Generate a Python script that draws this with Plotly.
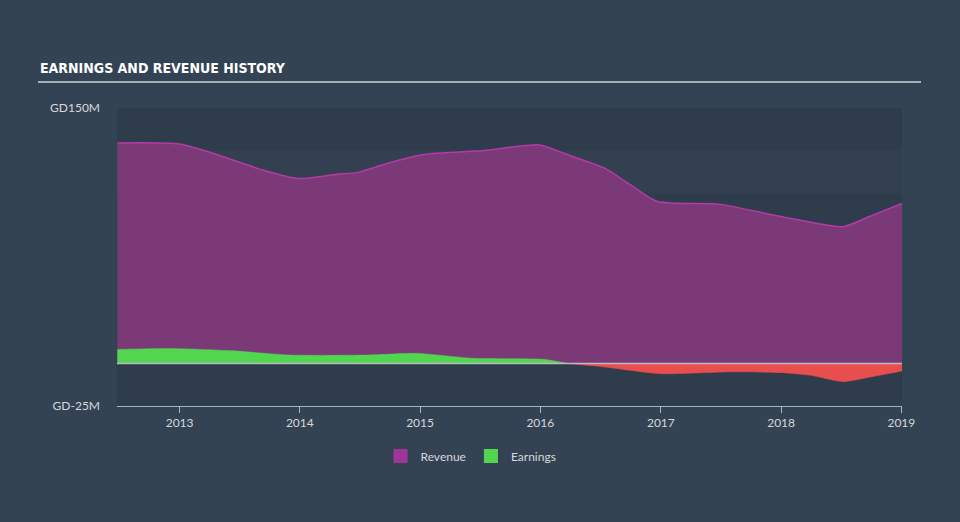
import plotly.graph_objects as go

# ---- data ----
rev_dates = ["2012-06-26", "2013-01-01", "2013-04-05", "2013-09-15", "2013-12-28",
             "2014-04-20", "2014-06-27", "2014-10-02", "2015-01-14", "2015-07-15",
             "2015-12-29", "2016-04-08", "2016-07-16", "2016-09-30", "2016-12-22",
             "2017-07-01", "2017-11-29", "2018-03-21", "2018-07-08", "2018-09-19",
             "2019-01-03"]
revenue = [129.5, 128.9, 123.9, 113.3, 108.6,
           111.0, 112.2, 118.0, 122.7, 125.0,
           128.3, 121.5, 114.5, 105.0, 95.1,
           93.4, 87.5, 83.4, 80.3, 85.7,
           94.0]

earn_dates = ["2012-06-26", "2012-11-27", "2013-06-13", "2013-12-03", "2014-07-24",
              "2014-12-24", "2015-06-11", "2016-01-10", "2016-03-24", "2016-07-01",
              "2016-12-31", "2017-08-09", "2018-01-08", "2018-04-01", "2018-07-08",
              "2018-09-28", "2019-01-03"]
earnings = [8.2, 8.8, 7.4, 4.9, 4.9,
            5.9, 3.0, 2.4, 0.0, -1.8,
            -6.0, -4.9, -5.5, -7.0, -10.7,
            -8.0, -4.5]

y_ticks = [150, -25]
y_tick_labels = ["GD150M", "GD-25M"]
x_range = ["2012-06-25", "2019-01-03"]

# split earnings into positive / negative parts
pos_d = [d for d, v in zip(earn_dates, earnings) if v >= 0]
pos_v = [v for v in earnings if v >= 0]
neg_d = [d for d, v in zip(earn_dates, earnings) if v <= 0]
neg_v = [v for v in earnings if v <= 0]

PAPER = "#344353"
PLOT = "#2e3c4b"
REV_FILL = "#7b3a77"
REV_LINE = "#b43aa8"
EARN_POS = "#52d650"
EARN_NEG = "#e84e4e"

fig = go.Figure()

fig.add_trace(go.Scatter(
    x=rev_dates, y=revenue, name="Revenue", mode="lines", showlegend=False,
    line=dict(color=REV_LINE, width=1.5, shape="spline", smoothing=0.6),
    fill="tozeroy", fillcolor=REV_FILL,
))
fig.add_trace(go.Scatter(
    x=pos_d, y=pos_v, name="Earnings", mode="lines", showlegend=False,
    line=dict(color=EARN_POS, width=0.5, shape="spline", smoothing=0.6),
    fill="tozeroy", fillcolor=EARN_POS,
))
fig.add_trace(go.Scatter(
    x=neg_d, y=neg_v, name="Earnings (loss)", mode="lines", showlegend=False,
    line=dict(color=EARN_NEG, width=0.5, shape="spline", smoothing=0.6),
    fill="tozeroy", fillcolor=EARN_NEG,
))
# legend entries (square swatches)
fig.add_trace(go.Scatter(x=[None], y=[None], name="Revenue", mode="markers",
                         marker=dict(symbol="square", size=14, color="#a0369a")))
fig.add_trace(go.Scatter(x=[None], y=[None], name="Earnings", mode="markers",
                         marker=dict(symbol="square", size=14, color=EARN_POS)))

L, R, T, B = 117, 902, 108, 406
W = R - L
H = B - T

def px(x):
    return (x - L) / W

def py(y):
    return (B - y) / H

shapes = [
    dict(type="rect", xref="paper", yref="y", x0=0, x1=1, y0=100, y1=125,
         fillcolor="rgba(255,255,255,0.025)", line=dict(width=0), layer="below"),
    dict(type="line", xref="paper", yref="y", x0=0, x1=1, y0=0, y1=0,
         line=dict(color="#b8bcc0", width=1.5), layer="above"),
    dict(type="line", xref="paper", yref="paper", x0=px(38), x1=px(921),
         y0=py(82), y1=py(82), line=dict(color="#a9afb6", width=2)),
]

fig.update_layout(
    width=960, height=522,
    margin=dict(l=L, r=960 - R, t=T, b=522 - B),
    paper_bgcolor=PAPER, plot_bgcolor=PLOT,
    font=dict(family="Lato, Open Sans, sans-serif", color="#d4d8dc", size=12),
    showlegend=True,
    legend=dict(orientation="h", x=0.451, xanchor="center", y=-0.168, yanchor="middle",
                font=dict(size=12, color="#d4d8dc"), bgcolor="rgba(0,0,0,0)",
                itemwidth=30, tracegroupgap=0),
    shapes=shapes,
    annotations=[dict(text="<b>EARNINGS AND REVENUE HISTORY</b>", xref="paper", yref="paper",
                      x=px(38), y=py(68), xanchor="left", yanchor="middle", showarrow=False,
                      font=dict(family="DejaVu Sans Condensed, DejaVu Sans",
                                size=14, color="#ffffff"))],
    xaxis=dict(type="date", range=x_range, dtick="M12", tick0="2013-01-01", tickformat="%Y",
               showgrid=False, zeroline=False, showline=True, linecolor="#a9b2bc", linewidth=1,
               ticks="outside", ticklen=6, tickcolor="#a9b2bc", tickfont=dict(size=12, color="#d4d8dc")),
    yaxis=dict(range=[-25, 150], tickvals=y_ticks, ticktext=y_tick_labels, showgrid=False,
               zeroline=False, showline=False, ticks="", ticklabelstandoff=16,
               tickfont=dict(size=12, color="#d4d8dc")),
)

fig.write_html("out.html")
